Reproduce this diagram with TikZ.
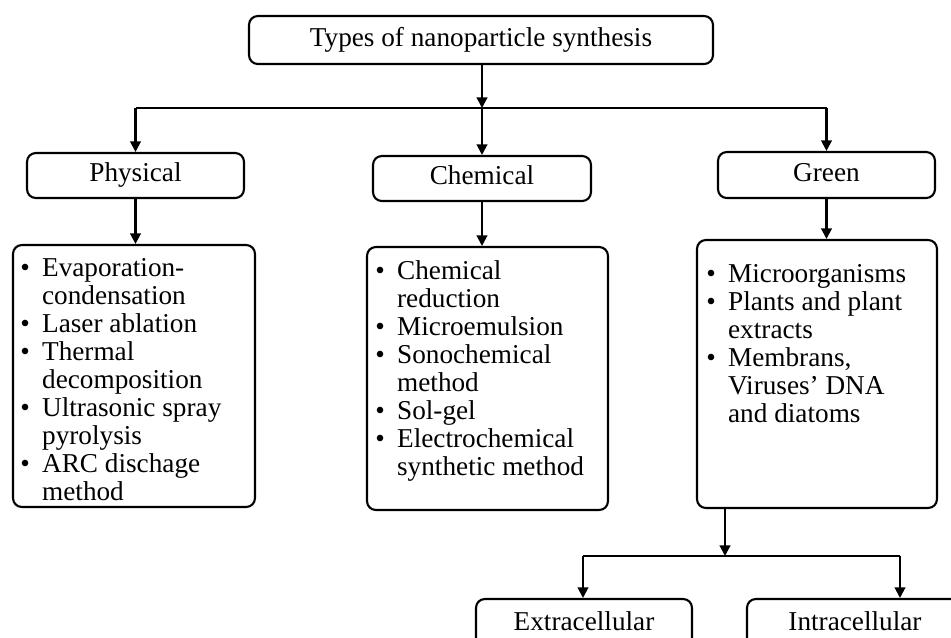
\documentclass[tikz,border=0pt]{standalone}
\usepackage{fontspec}
\setmainfont{Liberation Serif}
\usetikzlibrary{arrows.meta, positioning}

\begin{document}
\begin{tikzpicture}[x=0.02cm, y=-0.02cm,
    font=\fontsize{15.5}{16}\selectfont,
    typebox/.style={draw, rounded corners=5pt, line width=1.2pt, inner sep=0pt,
      text height=0.95em, text depth=0.22em},
    listtext/.style={inner sep=0pt},
    link/.style={line width=1.2pt},
    arr/.style={-{Triangle[width=6pt, length=6pt]}, line width=1.2pt}
  ]
  \useasboundingbox (0, 0) rectangle (951, 637);
  \clip (0, 0) rectangle (951, 637);

  % top
  \node[typebox, minimum width=9.28cm, minimum height=0.96cm] at (481, 40) (types) {Types of nanoparticle synthesis};
  % kinds
  \node[typebox, minimum width=4.34cm, minimum height=0.9cm] at (135.5, 175.5) (phys) {Physical};
  \node[typebox, minimum width=4.36cm, minimum height=0.9cm] at (482, 178.5) (chem) {Chemical};
  \node[typebox, minimum width=4.34cm, minimum height=0.92cm] at (826.5, 175) (green) {Green};

  % lists
  \node[typebox, minimum width=4.84cm, minimum height=5.24cm] at (134, 376) (physlist) {};
  \node[listtext, below right=0.24cm and 0.16cm of physlist.north west] (physitems) {%
    \begin{tabular}{@{}l@{\hspace{7pt}}l@{}}
      \textbullet & Evaporation-\\
                  & condensation\\
      \textbullet & Laser ablation\\
      \textbullet & Thermal\\
                  & decomposition\\
      \textbullet & Ultrasonic spray\\
                  & pyrolysis\\
      \textbullet & ARC dischage\\
                  & method
    \end{tabular}};
  \node[typebox, minimum width=4.82cm, minimum height=5.26cm] at (487.5, 378.5) (chemlist) {};
  \node[listtext, below right=0.26cm and 0.18cm of chemlist.north west] (chemitems) {%
    \begin{tabular}{@{}l@{\hspace{7pt}}l@{}}
      \textbullet & Chemical\\
                  & reduction\\
      \textbullet & Microemulsion\\
      \textbullet & Sonochemical\\
                  & method\\
      \textbullet & Sol-gel\\
      \textbullet & Electrochemical\\
                  & synthetic method
    \end{tabular}};
  \node[typebox, minimum width=4.8cm, minimum height=5.36cm] at (817, 374) (greenlist) {};
  \node[listtext, below right=0.46cm and 0.2cm of greenlist.north west] (greenitems) {%
    \begin{tabular}{@{}l@{\hspace{7pt}}l@{}}
      \textbullet & Microorganisms\\
      \textbullet & Plants and plant\\
                  & extracts\\
      \textbullet & Membrans,\\
                  & Viruses' DNA\\
                  & and diatoms
    \end{tabular}};

  % cell types
  \node[typebox, minimum width=4.32cm, minimum height=1cm] at (584, 624) (extra) {Extracellular};
  \node[typebox, minimum width=4.32cm, minimum height=1cm] at (855, 624) (intra) {Intracellular};

  % edges
  \coordinate (split) at (482, 108);
  \draw[arr] (types.south -| split) -- (split);
  \draw[link] (phys |- split) -- (green |- split);
  \draw[arr] (phys |- split) -- (phys);
  \draw[arr] (split) -- (chem);
  \draw[arr] (green |- split) -- (green);
  \draw[arr] (phys.south) -- (phys.south |- physlist.north);
  \draw[arr] (chem.south) -- (chem.south |- chemlist.north);
  \draw[arr] (green.south) -- (green.south |- greenlist.north);

  \coordinate (cellsplit) at (725, 556);
  \coordinate (toextra) at (583, 556);
  \coordinate (tointra) at (900, 556);
  \draw[arr] (cellsplit |- greenlist.south) -- (cellsplit);
  \draw[link] (toextra) -- (tointra);
  \draw[arr] (toextra) -- (toextra |- extra.north);
  \draw[arr] (tointra) -- (tointra |- intra.north);
\end{tikzpicture}
\end{document}
